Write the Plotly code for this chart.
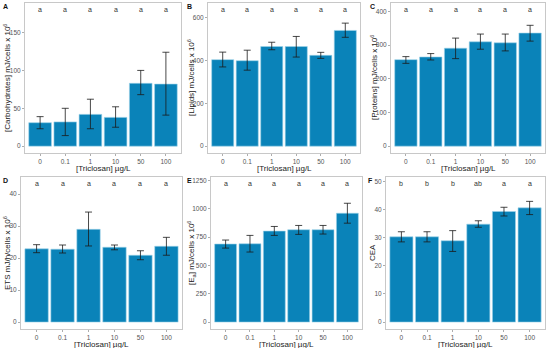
import plotly.graph_objects as go

categories = ["0", "0.1", "1", "10", "50", "100"]

carb = [31, 32, 42, 38, 83, 82]
carb_lo = [23, 14, 23, 25, 68, 41]
carb_hi = [39, 50, 62, 52, 100, 124]
carb_letters = ["a", "a", "a", "a", "a", "a"]

lip = [403, 398, 464, 464, 423, 539]
lip_lo = [369, 354, 449, 415, 409, 507]
lip_hi = [438, 447, 484, 511, 437, 573]
lip_letters = ["a", "a", "a", "a", "a", "a"]

prot = [257, 265, 291, 310, 307, 336]
prot_lo = [246, 256, 260, 288, 283, 312]
prot_hi = [266, 275, 321, 333, 333, 359]
prot_letters = ["a", "a", "a", "a", "a", "a"]

ets = [22.9, 22.8, 29.0, 23.4, 20.9, 23.7]
ets_lo = [21.7, 21.6, 23.8, 22.6, 19.5, 20.9]
ets_hi = [24.2, 24.1, 34.4, 24.1, 22.3, 26.5]
ets_letters = ["a", "a", "a", "a", "a", "a"]

ea = [690, 692, 804, 816, 816, 962]
ea_lo = [654, 619, 766, 775, 778, 874]
ea_hi = [725, 766, 845, 854, 854, 1050]
ea_letters = ["a", "a", "a", "a", "a", "a"]

cea = [30.3, 30.3, 28.9, 34.8, 39.3, 40.6]
cea_lo = [28.5, 28.5, 25.1, 33.7, 37.7, 38.2]
cea_hi = [32.1, 32.1, 32.5, 36.0, 40.8, 42.9]
cea_letters = ["b", "b", "b", "ab", "a", "a"]

x_title = "[Triclosan] µg/L"

panels = [
    dict(label="A", v=carb, lo=carb_lo, hi=carb_hi, let=carb_letters, ly=180,
         ticks=[0, 50, 100, 150], title="[Carbohydrates] mJ/cells x 10<sup>6</sup>",
         x=(25, 181), y=(3, 153), lab=(5, 6), tx=7),
    dict(label="B", v=lip, lo=lip_lo, hi=lip_hi, let=lip_letters, ly=635,
         ticks=[0, 200, 400, 600], title="[Lipids] mJ/cells x 10<sup>6</sup>",
         x=(208, 360), y=(3, 153), lab=(189, 6), tx=191),
    dict(label="C", v=prot, lo=prot_lo, hi=prot_hi, let=prot_letters, ly=405,
         ticks=[0, 100, 200, 300, 400], title="[Proteins] mJ/cells x 10<sup>6</sup>",
         x=(391, 545), y=(3, 153), lab=(372, 6), tx=374),
    dict(label="D", v=ets, lo=ets_lo, hi=ets_hi, let=ets_letters, ly=43.2,
         ticks=[0, 10, 20, 30, 40], title="ETS mJ/h/cells x 10<sup>6</sup>",
         x=(21, 182), y=(177, 329), lab=(5, 181), tx=7),
    dict(label="E", v=ea, lo=ea_lo, hi=ea_hi, let=ea_letters, ly=1221,
         ticks=[0, 250, 500, 750, 1000, 1250], title="[E<sub>a</sub>] mJ/cells x 10<sup>6</sup>",
         x=(211, 362), y=(177, 329), lab=(189, 180), tx=191),
    dict(label="F", v=cea, lo=cea_lo, hi=cea_hi, let=cea_letters, ly=49.1,
         ticks=[0, 10, 20, 30, 40, 50], title="CEA",
         x=(386, 545), y=(177, 329), lab=(370, 180), tx=372),
]

W, H = 550, 348
fig = go.Figure()
layout = dict(width=W, height=H, margin=dict(l=0, r=0, t=0, b=0),
              paper_bgcolor="white", plot_bgcolor="white", showlegend=False,
              font=dict(family="Liberation Sans, Arial, sans-serif"))
annotations = []

for i, p in enumerate(panels):
    n = i + 1
    xs = "x" if n == 1 else f"x{n}"
    ys = "y" if n == 1 else f"y{n}"
    xk = "xaxis" if n == 1 else f"xaxis{n}"
    yk = "yaxis" if n == 1 else f"yaxis{n}"
    plus = [h - v for h, v in zip(p["hi"], p["v"])]
    minus = [v - l for v, l in zip(p["v"], p["lo"])]
    fig.add_trace(go.Bar(
        x=categories, y=p["v"], xaxis=xs, yaxis=ys, width=0.9,
        marker=dict(color="#0A83B9", line=dict(color="#9fd3ea", width=0.6)),
        error_y=dict(type="data", array=plus, arrayminus=minus, color="#1a1a1a",
                     thickness=0.8, width=3.5),
        hoverinfo="skip"))
    for k, t in enumerate(p["let"]):
        annotations.append(dict(text=t, x=k, y=p["ly"], xref=xs, yref=ys,
                                showarrow=False, xanchor="center", yanchor="middle",
                                font=dict(size=7, color="#333333")))
    top = p["ly"]
    pad = top * 0.05
    layout[xk] = dict(domain=[p["x"][0] / W, p["x"][1] / W], anchor=ys,
                      type="category", showline=True, mirror=True,
                      linecolor="#c8c8c8", linewidth=1, ticks="outside",
                      ticklen=2, tickcolor="#999999", tickwidth=0.8,
                      tickfont=dict(size=6.5, color="#555555"),
                      showgrid=False, zeroline=False, range=[-0.6, 5.6],
                      automargin=False)
    layout[yk] = dict(domain=[1 - p["y"][1] / H, 1 - p["y"][0] / H], anchor=xs,
                      range=[-pad, top + pad], showline=True, mirror=True,
                      linecolor="#c8c8c8", linewidth=1, ticks="outside",
                      ticklen=2, tickcolor="#999999", tickwidth=0.8,
                      tickvals=p["ticks"], tickfont=dict(size=6.5, color="#555555"),
                      showgrid=False, zeroline=False, automargin=False)
    annotations.append(dict(text=f"<b>{p['label']}</b>", x=p["lab"][0] / W,
                            y=1 - p["lab"][1] / H, xref="paper", yref="paper",
                            xanchor="center", yanchor="middle", showarrow=False,
                            font=dict(size=7, color="#111111")))
    xc = (p["x"][0] + p["x"][1]) / 2
    annotations.append(dict(text=x_title, x=xc / W, y=1 - (p["y"][1] + 15) / H,
                            xref="paper", yref="paper", xanchor="center",
                            yanchor="middle", showarrow=False,
                            font=dict(size=8, color="#222222")))
    yc = (p["y"][0] + p["y"][1]) / 2
    annotations.append(dict(text=p["title"], x=p["tx"] / W, y=1 - yc / H,
                            xref="paper", yref="paper", xanchor="center",
                            yanchor="middle", textangle=-90, showarrow=False,
                            font=dict(size=8, color="#222222")))

layout["annotations"] = annotations
fig.update_layout(**layout)
fig.write_html("out.html",
               config={"displayModeBar": False, "staticPlot": True},
               post_script="document.body.style.margin='0px';"
                           "document.documentElement.style.overflow='hidden';")
